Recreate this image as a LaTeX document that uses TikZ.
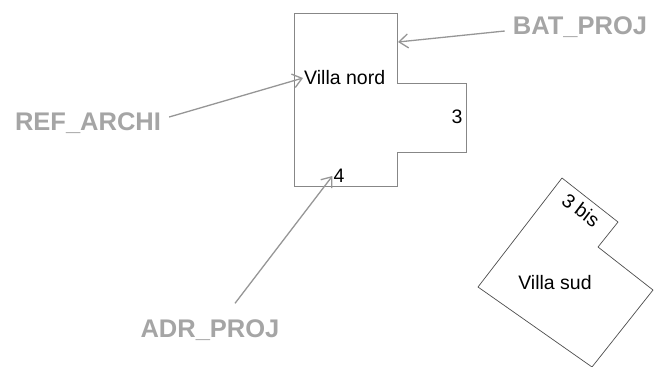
\documentclass[tikz,border=0pt]{standalone}
\usepackage{fontspec}
\setmainfont{Liberation Sans}
\usetikzlibrary{arrows.meta}
\definecolor{etiq}{RGB}{165,165,165}
\definecolor{fleche}{RGB}{150,150,150}
\definecolor{mur}{RGB}{135,135,135}
\begin{document}
\begin{tikzpicture}[x=1pt,y=-1pt,
	etiquette/.style={text=etiq,font=\fontsize{25.5}{27}\selectfont\bfseries,inner sep=2pt},
	texte/.style={font=\fontsize{19.5}{21}\selectfont,inner sep=1pt},
	renvoi/.style={-{Straight Barb[length=9pt,width=14pt]},fleche,line width=1.3pt}]
		\useasboundingbox (0,0) rectangle (654,367);
		% batiment nord
		\draw[mur,line width=1pt] (294,13)--(397,13)--(397,83)--(466,83)--(466,152)--(397,152)--(397,186)--(294,186)--cycle;
		% batiment sud
		\draw[black!70,line width=.7pt] (562,178)--(618,222)--(598,247)--(653,290)--(592,367)--(478,287)--cycle;
		\node[texte,anchor=west,name=vnord]at(303,78){Villa nord};
		\node[texte,name=trois]at(457,117){3};
		\node[texte,name=quatre]at(339,176){4};
		\node[texte,name=vsud]at(555,283){Villa sud};
		\node[texte,rotate=-37,name=troisbis]at(581,210){3 bis};
		\node[etiquette,name=refarchi]at(88,123){REF\_ARCHI};
		\node[etiquette,name=batproj]at(580,27){BAT\_PROJ};
		\node[etiquette,name=adrproj]at(210,330){ADR\_PROJ};
		\coordinate (batmur) at (398,42);
		\draw[renvoi]([xshift=6pt,yshift=6pt]refarchi.east) -- (vnord.west);
		\draw[renvoi]([xshift=-6pt,yshift=-4pt]batproj.west) -- (batmur);
		\draw[renvoi]([xshift=25pt,yshift=14pt]adrproj.north) -- (quatre.west);
\end{tikzpicture}
\end{document}
